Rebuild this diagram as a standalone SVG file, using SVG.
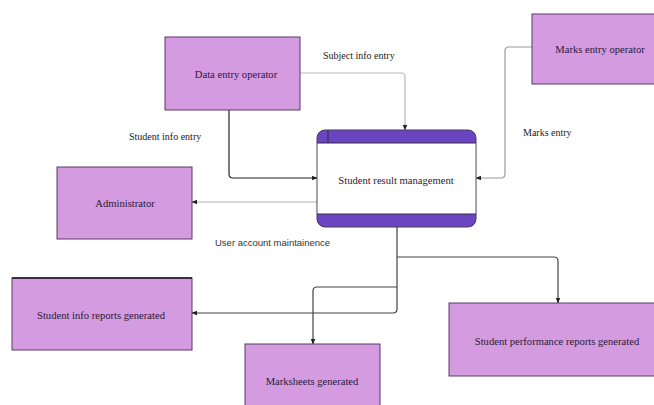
<svg xmlns="http://www.w3.org/2000/svg" width="654" height="405" viewBox="0 0 654 405">
<defs>
<style>
.box{fill:#d49be0;stroke:#5a3a66;stroke-width:1}
.lbl{font-family:'Liberation Serif','Times New Roman','DejaVu Serif',serif;font-size:10.6px;fill:#2a1a3a;text-anchor:middle}
.elbl{font-family:'Liberation Serif','Times New Roman','DejaVu Serif',serif;font-size:10px;fill:#222}
.c{fill:none;stroke-width:1.2}
</style>
<marker id="ah" viewBox="0 0 10 10" refX="9" refY="5" markerWidth="5" markerHeight="5" orient="auto-start-reverse">
<path d="M0,1 L10,5 L0,9 z" fill="#222"/>
</marker>
</defs>
<rect width="654" height="405" fill="#ffffff"/>

<g id="connectors">
<path class="c" stroke="#b8b8b8" d="M300,73 H401 Q405,73 405,77 V130" marker-end="url(#ah)"/>
<path class="c" stroke="#222" d="M229,110 V174 Q229,178 233,178 H317" marker-end="url(#ah)"/>
<path class="c" stroke="#9a9a9a" d="M532,47 H509 Q505,47 505,51 V174 Q505,178 501,178 H476" marker-end="url(#ah)"/>
<path class="c" stroke="#b0b0b0" d="M317,202 H192" marker-end="url(#ah)"/>
<path class="c" stroke="#444" d="M397,227 V309 Q397,313 393,313 H192" marker-end="url(#ah)"/>
<path class="c" stroke="#444" d="M397,287 H317 Q313,287 313,291 V344" marker-end="url(#ah)"/>
<path class="c" stroke="#444" d="M397,257 H554 Q558,257 558,261 V303" marker-end="url(#ah)"/>
<text class="elbl" x="323" y="59">Subject info entry</text>
<text class="elbl" x="129" y="140">Student info entry</text>
<text class="elbl" x="523" y="136">Marks entry</text>
<text x="215" y="246" font-family="'Liberation Sans',Arial,sans-serif" font-size="9.5" fill="#333">User account maintainence</text>
</g>

<g id="data-entry-operator">
<rect class="box" x="165" y="37" width="135" height="73"/>
<text class="lbl" x="236" y="78">Data entry operator</text>
</g>

<g id="marks-entry-operator">
<rect class="box" x="532" y="14" width="130" height="70"/>
<text class="lbl" x="600" y="53">Marks entry operator</text>
</g>

<g id="student-result-management">
<rect x="317" y="130" width="159" height="97" rx="8" fill="#6a45c2" stroke="#4a3a5a" stroke-width="1"/>
<rect x="317.5" y="143" width="158" height="71" fill="#ffffff"/>
<line x1="317" y1="143" x2="476" y2="143" stroke="#3a2a4a" stroke-width="1"/>
<line x1="317" y1="214" x2="476" y2="214" stroke="#3a2a4a" stroke-width="1"/>
<line x1="328" y1="130" x2="328" y2="143" stroke="#3a2a4a" stroke-width="1"/>
<text class="lbl" x="396" y="184" fill="#222">Student result management</text>
</g>

<g id="administrator">
<rect class="box" x="57" y="167" width="135" height="72"/>
<text class="lbl" x="125" y="207">Administrator</text>
</g>

<g id="student-info-reports">
<rect class="box" x="12" y="278" width="180" height="72"/>
<line x1="12" y1="278" x2="192" y2="278" stroke="#1a1020" stroke-width="1.5"/>
<text class="lbl" x="101" y="319">Student info reports generated</text>
</g>

<g id="marksheets">
<rect class="box" x="245" y="344" width="135" height="70"/>
<text class="lbl" x="312" y="385">Marksheets generated</text>
</g>

<g id="student-performance-reports">
<rect class="box" x="449" y="303" width="215" height="73"/>
<text class="lbl" x="557" y="345">Student performance reports generated</text>
</g>
</svg>
